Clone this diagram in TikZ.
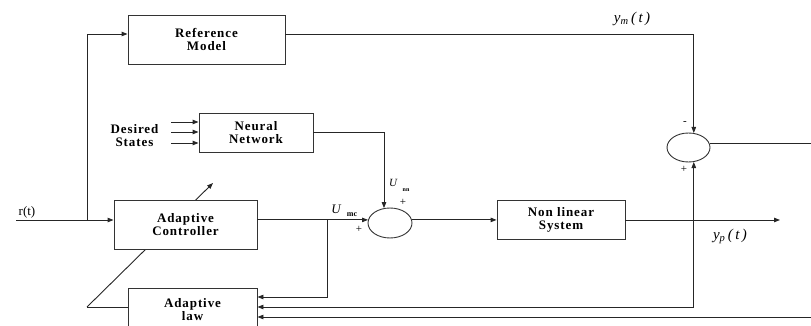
\documentclass[tikz,border=0pt]{standalone}
\usepackage{fontspec}
\setmainfont{Liberation Serif}
\newfontfamily\bx{Liberation Serif}[LetterSpace=7]
\newfontfamily\lsit{Liberation Serif}[LetterSpace=16]
\usetikzlibrary{shapes.geometric,arrows.meta,calc}
\begin{document}
\begin{tikzpicture}[x=1pt,y=-1pt,
  lin/.style={line width=0.9pt, draw=black!85},
  tip/.tip={Triangle[length=6pt,width=4.5pt]},
  arr/.style={lin, -tip},
  blk/.style={draw=black!80, line width=0.9pt, fill=white, align=center, inner sep=0pt,
    font=\fontsize{13}{13}\selectfont\bx\bfseries},
  sumj/.style={ellipse, draw=black!80, line width=0.9pt, minimum width=44pt,
    minimum height=30pt, inner sep=0pt},
  lbl/.style={inner sep=0pt, font=\fontsize{11}{12}\selectfont},
  sgn/.style={inner sep=0pt, font=\fontsize{11}{11}\selectfont},
  mathlbl/.style={inner sep=0pt, font=\fontsize{15}{15}\selectfont\lsit\itshape}]
\useasboundingbox (0,0) rectangle (811,326);
\clip (0,0) rectangle (811,326);
% adjustment arrow (behind the controller)
\coordinate (d0) at (87,307);
\coordinate (d1) at (213,183);
\draw[arr] (d0) -- (d1);
% blocks
\node[blk, minimum width=157pt, minimum height=49pt] (rm) at (206.5,39.5) {Reference\\Model};
\node[blk, minimum width=114pt, minimum height=39pt] (nn) at (256,132.5) {Neural\\Network};
\node[blk, minimum width=143pt, minimum height=49pt] (ac) at (185.5,224.5) {Adaptive\\Controller};
\node[blk, minimum width=129pt, minimum height=44pt] (al) at (192.5,310) {Adaptive\\law};
\node[blk, minimum width=128pt, minimum height=39pt] (nls) at (561,220) {Non linear\\System};
\node[sumj] (s1) at (390,223) {};
\node[sumj, minimum width=43pt, minimum height=29pt] (s2) at (688.5,147.5) {};
% coordinates
\coordinate (rin) at (16,220);
\coordinate (b1) at (87,220);
\coordinate (b2) at (327,220);
\coordinate (yout) at (780,220);
\coordinate (rt) at (830,0);
\coordinate (rmi) at ($(rm.west)+(0,-5.5)$);
\coordinate (rmo) at ($(rm.east)+(0,-5.5)$);
\coordinate (ali1) at ($(al.east)+(0,-13)$);
\coordinate (ali2) at ($(al.east)+(0,-3)$);
\coordinate (ali3) at ($(al.east)+(0,7)$);
% connectors
\draw[arr] (rin) -- (ac.west |- rin);
\draw[arr] (b1) |- (rmi);
\draw[arr] (rmo) -| (s2.70);
\foreach \i/\yy in {1/122,2/132,3/143}{
  \coordinate (ds\i) at (171,\yy);
  \draw[arr] (ds\i) -- (nn.west |- ds\i);
}
\draw[arr] (nn.east) -| (s1.112);
\draw[arr] (ac.east |- s1.172) -- (s1.172);
\draw[arr] (s1.8) -- (nls.west |- s1.8);
\draw[arr] (nls.east) -- (yout);
\draw[arr] (b2) |- (ali1);
\draw[lin, tip-tip] (s2.-70) |- (ali2);
\draw[arr] (s2.11) -- (s2.11 -| rt) |- (ali3);
\draw[lin] (d0) -- (al.west |- d0);
% labels
\node[lbl, font=\fontsize{13}{13}\selectfont] at (27,212) {r(t)};
\node[mathlbl] at (632,19) {y\textsubscript{m}\,(t)};
\node[mathlbl] at (730,236) {y\textsubscript{p}\,(t)};
\node[blk, draw=none, fill=none] at (134.5,135.5) {Desired\\States};
\node[lbl, font=\fontsize{13}{13}\selectfont\itshape] at (336,209) {U};
\node[lbl, font=\fontsize{8}{8}\selectfont\bfseries] at (352,215) {mc};
\node[lbl, font=\fontsize{11}{11}\selectfont\itshape] at (393,183) {U};
\node[lbl, font=\fontsize{6}{6}\selectfont\bfseries] at (406,190) {nn};
\node[sgn] at (403,202) {+};
\node[sgn] at (359,229) {+};
\node[sgn] at (685,123) {-};
\node[sgn] at (684,169) {+};
\end{tikzpicture}
\end{document}
